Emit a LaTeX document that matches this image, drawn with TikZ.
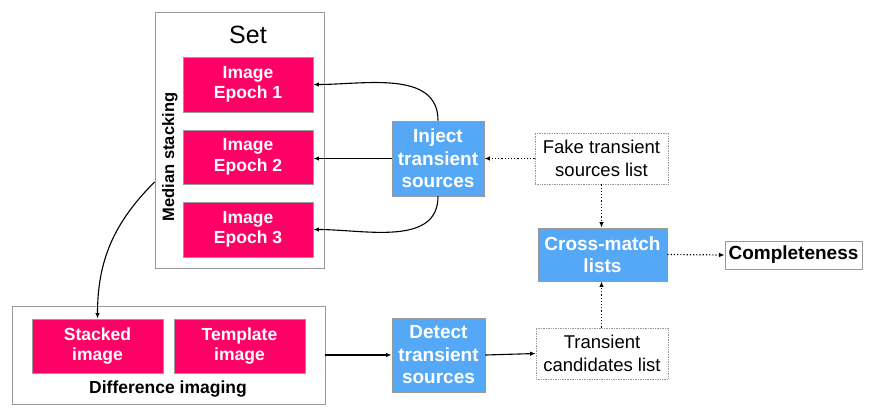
\documentclass[tikz,border=0pt]{standalone}
\usepackage{fontspec}
\setmainfont{Liberation Sans}
\usetikzlibrary{arrows.meta}
\definecolor{pinkbox}{HTML}{FF0066}
\definecolor{bluebox}{HTML}{55A8F5}
\definecolor{edgegray}{HTML}{9A9A9A}
\begin{document}
\begin{tikzpicture}[x=1pt,y=-1pt,
  pinkstep/.style={draw=edgegray,line width=0.9pt,fill=pinkbox,text=white,font=\fontsize{17.5}{20.5}\selectfont\bfseries,align=center,inner sep=0pt,minimum width=130pt,minimum height=54pt},
  bluestep/.style={draw=edgegray,line width=0.9pt,fill=bluebox,text=white,font=\fontsize{19}{22.5}\selectfont\bfseries,align=center,inner sep=0pt},
  groupbox/.style={draw=edgegray,line width=0.9pt,inner sep=0pt},
  listbox/.style={draw=edgegray,densely dotted,line width=0.7pt,font=\fontsize{18.5}{23}\selectfont,align=center,inner sep=0pt,minimum width=133pt,minimum height=51pt},
  conn/.style={line width=1.1pt,-{Latex[length=5.5pt,width=4.5pt]}},
  dotconn/.style={line width=1.2pt,dotted,-{Latex[length=5.5pt,width=4.5pt]}}
]
\useasboundingbox (0,0) rectangle (872,417);

% groups
\node[groupbox,minimum width=169pt,minimum height=256pt] (set) at (239.5,140) {};
\node[font=\fontsize{25}{28}\selectfont] (settitle) at (248,35) {Set};
\node[font=\fontsize{16.5}{18}\selectfont\bfseries,rotate=90] (median) at (170,157) {Median stacking};

\node[groupbox,minimum width=313pt,minimum height=98pt] (diff) at (168.5,355) {};
\node[font=\fontsize{17.5}{19}\selectfont\bfseries] (difflabel) at (168,389) {Difference imaging};

% pink images
\node[pinkstep,minimum height=55pt] (ep1) at (248,84.5) {Image\\Epoch 1};
\node[pinkstep] (ep2) at (248,157) {Image\\Epoch 2};
\node[pinkstep,minimum height=55pt] (ep3) at (248,229.5) {Image\\Epoch 3};
\node[pinkstep,minimum width=131pt] (stacked) at (97.5,346) {Stacked\\image};
\node[pinkstep,minimum width=131pt] (template) at (239.5,346) {Template\\image};

% blue steps
\node[bluestep,minimum width=92pt,minimum height=75pt] (inject) at (438,158.5) {Inject\\transient\\sources};
\node[bluestep,minimum width=93pt,minimum height=74pt] (detect) at (438.5,355) {Detect\\transient\\sources};
\node[bluestep,minimum width=129pt,minimum height=53pt] (cross) at (602.5,254.5) {Cross-match\\lists};

% lists
\node[listbox] (fake) at (601.5,158.5) {Fake transient\\sources list};
\node[listbox,minimum width=132pt] (cand) at (602,353.5) {Transient\\candidates list};
\node[draw=edgegray,line width=0.8pt,inner sep=0pt,minimum width=137pt,minimum height=28pt,font=\fontsize{19}{20}\selectfont\bfseries] (compl) at (793.5,255) {Completeness};

% connectors
\draw[conn] (inject.north) to[out=90,in=0] (ep1.east);
\draw[conn] (inject.west) -- (inject.west -| ep2.east);
\draw[conn] (inject.south) to[out=-90,in=0] (ep3.east);
\draw[dotconn] (fake.west) -- (inject.east);
\draw[dotconn] (fake.south) -- (fake.south |- cross.north);
\draw[dotconn] (cand.north -| fake.south) -- (fake.south |- cross.south);
\draw[dotconn] (cross.east) -- (compl.west);
\draw[conn] ([yshift=-42pt]set.west) to[out=225,in=90] (stacked.north);
\draw[conn] (diff.east) -- (detect.west);
\draw[conn] (detect.east) -- (cand.west);
\end{tikzpicture}
\end{document}
